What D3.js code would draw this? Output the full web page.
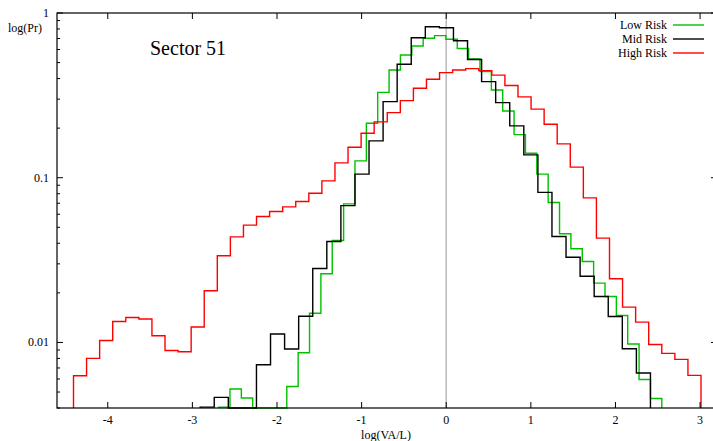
<!DOCTYPE html>
<html>
<head>
<meta charset="utf-8">
<script src="https://cdn.jsdelivr.net/npm/d3@7"></script>
<style>
  body { margin: 0; background: #fff; }
  text { font-family: "Liberation Serif", "DejaVu Serif", serif; fill: #000; }
</style>
</head>
<body>
<div id="chart"></div>
<script>
// histogram bins: start of first bin, bin width, probabilities per bin (0 = empty)
const lowStart = -2.69, lowWidth = 0.1343;
const lowRisk = [0.00405, 0.00522, 0.0046, 0, 0, 0, 0.0054, 0.00866, 0.01503, 0.0261,
  0.04157, 0.0694, 0.1265, 0.2142, 0.3295, 0.4511, 0.5561, 0.6307, 0.7024, 0.7284,
  0.6927, 0.6091, 0.526, 0.4418, 0.341, 0.2543, 0.1827, 0.1409, 0.1051, 0.07067,
  0.04565, 0.03702, 0.031, 0.02293, 0.01901, 0.01458, 0.00978, 0.00596, 0.00457];

const midStart = -2.908, midWidth = 0.1663;
const midRisk = [0.00405, 0.00464, 0, 0, 0.00732, 0.01125, 0.00912, 0.01442, 0.02812, 0.041,
  0.0677, 0.1052, 0.1673, 0.2897, 0.4885, 0.708, 0.826, 0.814, 0.679, 0.5223,
  0.383, 0.2857, 0.2063, 0.1376, 0.0815, 0.044, 0.03287, 0.02521, 0.01901, 0.01438,
  0.00916, 0.00652];

const highStart = -4.405, highWidth = 0.1545;
const highRisk = [0.00628, 0.008, 0.01028, 0.01341, 0.01418, 0.01387, 0.01098, 0.00894, 0.00878, 0.0124,
  0.02059, 0.03357, 0.04377, 0.05156, 0.05811, 0.06232, 0.06655, 0.07166, 0.08056, 0.0957,
  0.1231, 0.1532, 0.1863, 0.2182, 0.2484, 0.2938, 0.3493, 0.3961, 0.4343, 0.4511,
  0.4594, 0.4467, 0.4195, 0.3633, 0.3094, 0.2609, 0.2113, 0.1604, 0.1159, 0.07545,
  0.04298, 0.02434, 0.01639, 0.01329, 0.00972, 0.00858, 0.00789, 0.00631];

const xTicks = [-4, -3, -2, -1, 0, 1, 2, 3];
const yTicks = [1, 0.1, 0.01];
const yTickLabels = ['1', '0.1', '0.01'];

const width = 713, height = 441;
const plotL = 57, plotR = 717, plotT = 13, plotB = 408;

const svg = d3.select('#chart').append('svg')
  .attr('width', width)
  .attr('height', height);

const x = d3.scaleLinear().domain([-4.6, 3.2]).range([plotL, plotR]);
const y = d3.scaleLog().domain([0.004, 1]).range([plotB, plotT]).clamp(true);

// zero line
svg.append('line')
  .attr('x1', x(0)).attr('x2', x(0))
  .attr('y1', plotT).attr('y2', plotB)
  .attr('stroke', '#bdbdbd')
  .attr('stroke-width', 1.6);

function stepPoints(start, w, vals) {
  const pts = [[start, 0]];
  vals.forEach((v, i) => pts.push([start + i * w, v]));
  pts.push([start + vals.length * w, 0]);
  return pts;
}

const line = d3.line()
  .x(d => x(d[0]))
  .y(d => y(Math.max(d[1], 1e-4)))
  .curve(d3.curveStepAfter);

const series = [
  { name: 'Low Risk', color: '#00c000', pts: stepPoints(lowStart, lowWidth, lowRisk) },
  { name: 'Mid Risk', color: '#000000', pts: stepPoints(midStart, midWidth, midRisk) },
  { name: 'High Risk', color: '#ff0000', pts: stepPoints(highStart, highWidth, highRisk) }
];

svg.selectAll('path.hist')
  .data(series)
  .enter().append('path')
  .attr('class', 'hist')
  .attr('d', d => line(d.pts))
  .attr('fill', 'none')
  .attr('stroke', d => d.color)
  .attr('stroke-width', 1.4);

// border
svg.append('rect')
  .attr('x', plotL).attr('y', plotT)
  .attr('width', plotR - plotL).attr('height', plotB - plotT)
  .attr('fill', 'none')
  .attr('stroke', '#000')
  .attr('stroke-width', 1.2);

// x ticks (bottom and top)
xTicks.forEach(t => {
  svg.append('line').attr('x1', x(t)).attr('x2', x(t)).attr('y1', plotB).attr('y2', plotB - 6)
    .attr('stroke', '#000');
  svg.append('line').attr('x1', x(t)).attr('x2', x(t)).attr('y1', plotT).attr('y2', plotT + 6)
    .attr('stroke', '#000');
  svg.append('text')
    .attr('x', x(t)).attr('y', 424)
    .attr('text-anchor', 'middle')
    .attr('font-size', 12)
    .text(t);
});

// y ticks, log minor ticks
const minor = [];
[0.001, 0.01, 0.1].forEach(d => {
  for (let k = 2; k <= 9; k++) minor.push(d * k);
});
minor.filter(v => v >= 0.004 && v <= 1).forEach(v => {
  [[plotL, plotL + 3], [plotR, plotR - 3]].forEach(([a, b]) => {
    svg.append('line').attr('x1', a).attr('x2', b).attr('y1', y(v)).attr('y2', y(v))
      .attr('stroke', '#000');
  });
});
yTicks.forEach((t, i) => {
  [[plotL, plotL + 6], [plotR, plotR - 6]].forEach(([a, b]) => {
    svg.append('line').attr('x1', a).attr('x2', b).attr('y1', y(t)).attr('y2', y(t))
      .attr('stroke', '#000');
  });
  svg.append('text')
    .attr('x', 49).attr('y', y(t) + 4)
    .attr('text-anchor', 'end')
    .attr('font-size', 12)
    .text(yTickLabels[i]);
});

// axis labels
svg.append('text')
  .attr('x', 42).attr('y', 32)
  .attr('text-anchor', 'end')
  .attr('font-size', 12)
  .text('log(Pr)');

svg.append('text')
  .attr('x', 386).attr('y', 439)
  .attr('text-anchor', 'middle')
  .attr('font-size', 12)
  .text('log(VA/L)');

svg.append('text')
  .attr('x', 150).attr('y', 55)
  .attr('font-size', 20)
  .text('Sector 51');

// legend
series.forEach((s, i) => {
  const ly = 25 + i * 14;
  svg.append('text')
    .attr('x', 667).attr('y', ly + 4)
    .attr('text-anchor', 'end')
    .attr('font-size', 12)
    .text(s.name);
  svg.append('line')
    .attr('x1', 673).attr('x2', 704)
    .attr('y1', ly).attr('y2', ly)
    .attr('stroke', s.color)
    .attr('stroke-width', 1.4);
});
</script>
</body>
</html>
